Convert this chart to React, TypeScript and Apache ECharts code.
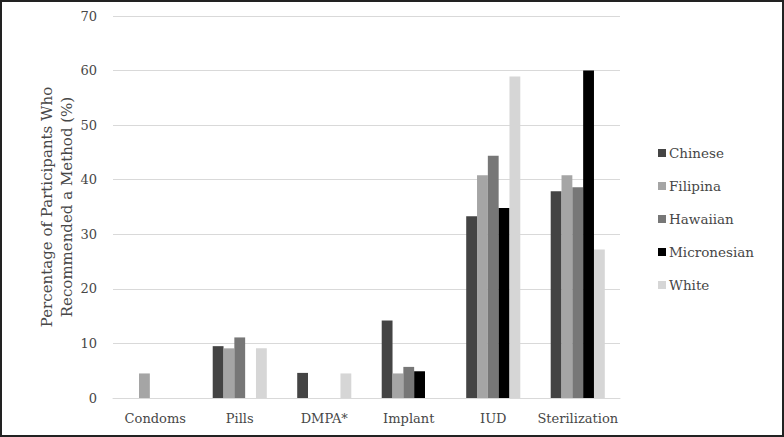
import React, { useEffect, useRef } from "react";
import * as echarts from "echarts";

const categories = ["Condoms", "Pills", "DMPA*", "Implant", "IUD", "Sterilization"];
const seriesNames = ["Chinese", "Filipina", "Hawaiian", "Micronesian", "White"];
const chinese = [0, 9.5, 4.6, 14.2, 33.3, 37.9];
const filipina = [4.5, 9.1, 0, 4.5, 40.8, 40.8];
const hawaiian = [0, 11.1, 0, 5.7, 44.4, 38.6];
const micronesian = [0, 0, 0, 4.9, 34.8, 60.0];
const white = [0, 9.1, 4.5, 0, 58.9, 27.2];
const yTicks = { min: 0, max: 70, interval: 10 };

const colors = ["#444444", "#a5a5a5", "#777777", "#000000", "#d6d6d6"];
const FONT = "DejaVu Serif";
const TEXT = "#474747";

export default function App() {
  const ref = useRef<HTMLDivElement>(null);
  useEffect(() => {
    if (!ref.current) return;
    const chart = echarts.init(ref.current, null, { renderer: "svg" });
    const values = [chinese, filipina, hawaiian, micronesian, white];
    chart.setOption({
      animation: false,
      textStyle: { fontFamily: FONT },
      grid: { left: 111, right: 162, top: 14, bottom: 37 },
      legend: {
        orient: "vertical",
        left: 651,
        top: 138,
        icon: "rect",
        itemWidth: 8,
        itemHeight: 8,
        itemGap: 17,
        data: seriesNames,
        textStyle: { fontFamily: FONT, fontSize: 13.5, color: TEXT, lineHeight: 16, padding: [0, 0, 0, -2] },
      },
      xAxis: {
        type: "category",
        data: categories,
        axisTick: { show: false },
        axisLine: { lineStyle: { color: "#d9d9d9", width: 1 } },
        axisLabel: { fontFamily: FONT, fontSize: 13, color: TEXT, margin: 14, interval: 0 },
      },
      yAxis: {
        type: "value",
        min: yTicks.min,
        max: yTicks.max,
        interval: yTicks.interval,
        name: "Percentage of Participants Who\nRecommended a Method (%)",
        nameLocation: "middle",
        nameGap: 36,
        nameMoveOverlap: false,
        nameTextStyle: { fontFamily: FONT, fontSize: 15, color: TEXT, lineHeight: 20 },
        axisLine: { show: false },
        axisTick: { show: false },
        axisLabel: { fontFamily: FONT, fontSize: 13, color: TEXT, margin: 16 },
        splitLine: { lineStyle: { color: "#d9d9d9", width: 1 } },
      },
      series: seriesNames.map((name, i) => ({
        name,
        type: "bar",
        data: values[i],
        barGap: "0%",
        barCategoryGap: "36%",
        itemStyle: { color: colors[i] },
      })),
    });
    return () => chart.dispose();
  }, []);
  return (
    <div
      style={{
        position: "fixed",
        left: 0,
        top: 0,
        width: 784,
        height: 437,
        boxSizing: "border-box",
        border: "2px solid #222",
        background: "#fff",
      }}
    >
      <div ref={ref} style={{ width: 780, height: 433 }} />
    </div>
  );
}
